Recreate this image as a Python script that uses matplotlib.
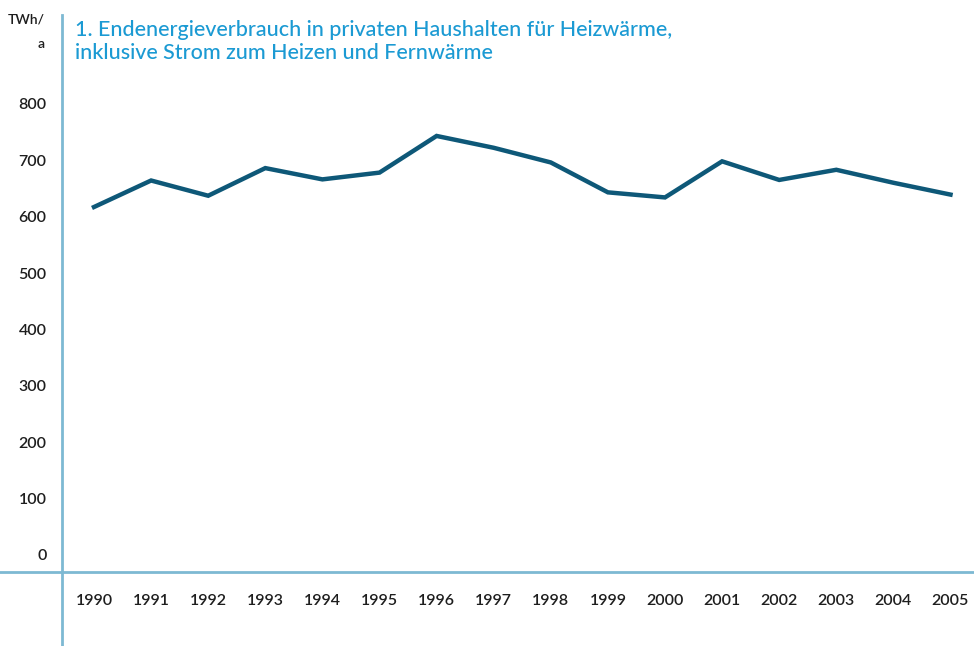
import matplotlib
matplotlib.use("Agg")
import matplotlib.pyplot as plt

years = list(range(1990, 2006))
values = [617, 664, 637, 686, 666, 678, 743, 722, 696, 643, 634, 698, 665, 683, 660, 639]
yticks = [0, 100, 200, 300, 400, 500, 600, 700, 800]
title_lines = ["1. Endenergieverbrauch in privaten Haushalten für Heizwärme,",
               "inklusive Strom zum Heizen und Fernwärme"]
unit_label = ["TWh/", "a"]

W, H = 974, 646
fig = plt.figure(figsize=(W / 100, H / 100), dpi=100)
plt.rcParams['font.family'] = ['Lato', 'DejaVu Sans']

axis_col = "#7db9d3"
line_col = "#0e5878"
text_col = "#1e1e1e"
title_col = "#1b9ad3"

ax = fig.add_axes([62 / W, 0, 1 - 62 / W, (H - 15) / H])
px_per_unit = 0.564
y0_from_bottom = H - 555
ylo = -y0_from_bottom / px_per_unit
yhi = ylo + (H - 15) / px_per_unit
ax.set_ylim(ylo, yhi)
xspace = 57.1
x1990 = 94
ax.set_xlim(years[0] - (x1990 - 62) / xspace, years[0] + (W - x1990) / xspace)

for s in ["top", "right", "bottom"]:
    ax.spines[s].set_visible(False)
ax.spines["left"].set_color(axis_col)
ax.spines["left"].set_linewidth(2)

ax.plot(years, values, color=line_col, lw=3.2, solid_joinstyle="miter", clip_on=False)

ax.set_yticks(yticks)
ax.set_yticklabels([str(v) for v in yticks], fontsize=11.5, color=text_col, fontweight="semibold")
ax.tick_params(axis="y", length=0, pad=11)
ax.set_xticks([])

base_val = -(572 - 555) / px_per_unit
ax.axhline(base_val, xmin=-62 / (W - 62), xmax=1, color=axis_col, lw=2, clip_on=False)

label_y = -(601 - 555) / px_per_unit
for yr in years:
    ax.text(yr, label_y, str(yr), ha="center", va="center", fontsize=11.5,
            color=text_col, fontweight="semibold")

fig.text(45 / W, 1 - 20 / H, unit_label[0], ha="right", va="center", fontsize=10,
         color=text_col, fontweight="semibold")
fig.text(45 / W, 1 - 44 / H, unit_label[1], ha="right", va="center", fontsize=10,
         color=text_col, fontweight="semibold")

fig.text(75 / W, 1 - 30 / H, title_lines[0], ha="left", va="center", fontsize=15.5,
         color=title_col, fontweight="medium")
fig.text(75 / W, 1 - 53 / H, title_lines[1], ha="left", va="center", fontsize=15.5,
         color=title_col, fontweight="medium")

fig.savefig("out.png", dpi=100, facecolor="white")
